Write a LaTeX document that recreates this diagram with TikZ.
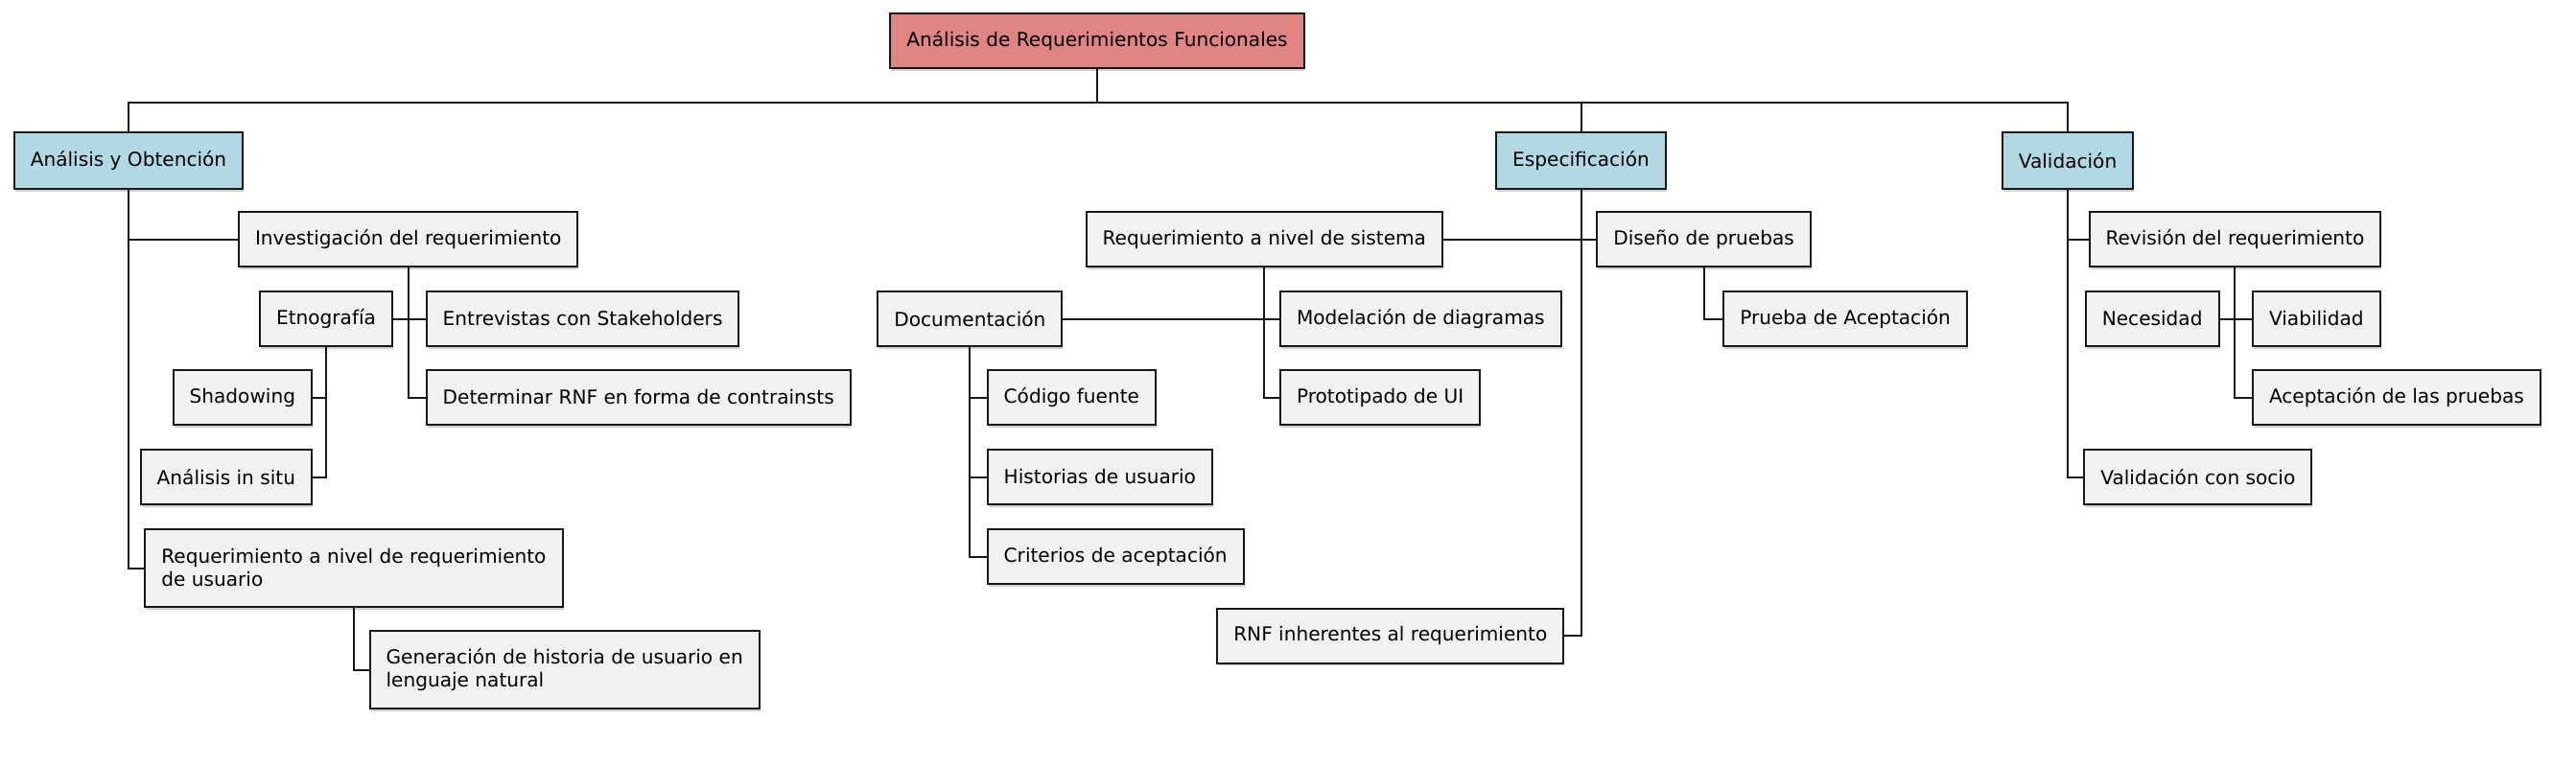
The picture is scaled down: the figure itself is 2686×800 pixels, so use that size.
\documentclass[tikz,border=0pt]{standalone}
\usepackage{fontspec}
\setmainfont{DejaVu Sans}
\usepackage{tikz}
\usetikzlibrary{shadows}
\definecolor{rootred}{HTML}{E08484}
\definecolor{phaseblue}{HTML}{B2D8E4}
\definecolor{leafgray}{HTML}{F1F1F1}
\definecolor{edgeblack}{HTML}{181818}
\tikzset{wbsbox/.style={draw=edgeblack, line width=2pt, fill=leafgray, minimum height=57pt, inner xsep=17pt, inner ysep=4pt, font=\fontsize{20.1}{24}\selectfont, text=black, drop shadow={shadow xshift=1pt, shadow yshift=-2.5pt, fill=black!30, opacity=0.6}}}
\tikzset{rootbox/.style={wbsbox, fill=rootred}}
\tikzset{phasebox/.style={wbsbox, fill=phaseblue, minimum height=59pt}}
\tikzset{tallbox/.style={wbsbox, align=left, minimum height=81pt}}
\tikzset{wire/.style={draw=edgeblack, line width=2pt}}

\begin{document}
\begin{tikzpicture}[x=1pt, y=-1pt]
  \useasboundingbox (0,0) rectangle (2686,800);
  \node[rootbox] (root) at (1144,43) {Análisis de Requerimientos Funcionales};
  \coordinate (bus) at ([yshift=-34pt]root.south);
  %
  \node[phasebox, anchor=west] (ayo) at (13.8,167.5) {Análisis y Obtención};
  \node[phasebox] (espe) at (1648.5,167.5) {Especificación};
  \node[phasebox] (vali) at (2156,167.5) {Validación};
  %
  \node[wbsbox, anchor=west] (inv) at (248,249.5) {Investigación del requerimiento};
  \node[wbsbox, anchor=east] (etno) at (410,332.5) {Etnografía};
  \node[wbsbox, anchor=west] (entr) at (443.7,332.5) {Entrevistas con Stakeholders};
  \node[wbsbox, anchor=west] (det) at (443.7,414.5) {Determinar RNF en forma de contrainsts};
  \node[wbsbox, anchor=east] (shad) at (326,414.5) {Shadowing};
  \node[wbsbox, anchor=east] (situ) at (326,497.5) {Análisis in situ};
  \node[tallbox, anchor=west] (requ) at (150.4,592.5) {Requerimiento a nivel de requerimiento\\de usuario};
  \node[tallbox, anchor=west] (gen) at (384.6,698.5) {Generación de historia de usuario en\\lenguaje natural};
  %
  \node[wbsbox, anchor=east] (reqs) at (1505,249.5) {Requerimiento a nivel de sistema};
  \node[wbsbox, anchor=west] (dise) at (1664.3,249.5) {Diseño de pruebas};
  \node[wbsbox, anchor=east] (docu) at (1108.4,332.5) {Documentación};
  \node[wbsbox, anchor=west] (mode) at (1334,332.5) {Modelación de diagramas};
  \node[wbsbox, anchor=west] (prot) at (1334,414.5) {Prototipado de UI};
  \node[wbsbox, anchor=west] (codi) at (1028.7,414.5) {Código fuente};
  \node[wbsbox, anchor=west] (hist) at (1028.7,497.5) {Historias de usuario};
  \node[wbsbox, anchor=west] (crit) at (1028.7,580.5) {Criterios de aceptación};
  \node[wbsbox, anchor=east] (rnf) at (1631.3,663) {RNF inherentes al requerimiento};
  \node[wbsbox, anchor=west] (prue) at (1796.3,332.5) {Prueba de Aceptación};
  %
  \node[wbsbox, anchor=west] (revi) at (2177.5,249.5) {Revisión del requerimiento};
  \node[wbsbox, anchor=east] (nece) at (2314.5,332.5) {Necesidad};
  \node[wbsbox, anchor=west] (viab) at (2348,332.5) {Viabilidad};
  \node[wbsbox, anchor=west] (acep) at (2348,414.5) {Aceptación de las pruebas};
  \node[wbsbox, anchor=west] (soci) at (2172.3,497.5) {Validación con socio};
  %
  \draw[wire] (root.south) -- (bus);
  \draw[wire] (bus) -| (ayo.north);
  \draw[wire] (bus) -| (espe.north);
  \draw[wire] (bus) -| (vali.north);
  \draw[wire] (ayo.south) |- (inv.west);
  \draw[wire] (ayo.south) |- (requ.west);
  \draw[wire] (inv.south) |- (etno.east);
  \draw[wire] (inv.south) |- (entr.west);
  \draw[wire] (inv.south) |- (det.west);
  \draw[wire] (etno.south) |- (shad.east);
  \draw[wire] (etno.south) |- (situ.east);
  \draw[wire] (requ.south) |- (gen.west);
  \draw[wire] (espe.south) |- (reqs.east);
  \draw[wire] (espe.south) |- (dise.west);
  \draw[wire] (espe.south) |- (rnf.east);
  \draw[wire] (reqs.south) |- (docu.east);
  \draw[wire] (reqs.south) |- (mode.west);
  \draw[wire] (reqs.south) |- (prot.west);
  \draw[wire] (docu.south) |- (codi.west);
  \draw[wire] (docu.south) |- (hist.west);
  \draw[wire] (docu.south) |- (crit.west);
  \draw[wire] (dise.south) |- (prue.west);
  \draw[wire] (vali.south) |- (revi.west);
  \draw[wire] (vali.south) |- (soci.west);
  \draw[wire] (revi.south) |- (nece.east);
  \draw[wire] (revi.south) |- (viab.west);
  \draw[wire] (revi.south) |- (acep.west);
\end{tikzpicture}
\end{document}
